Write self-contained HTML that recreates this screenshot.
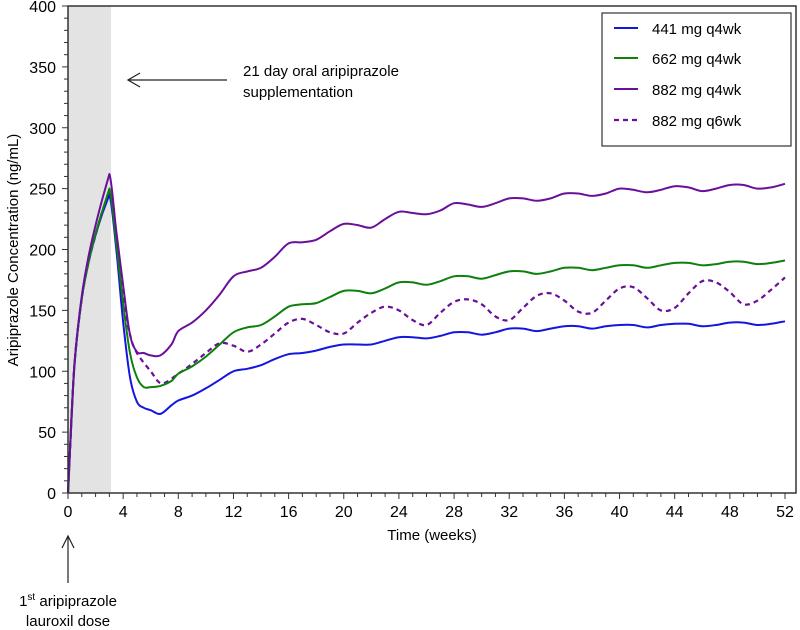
<!DOCTYPE html>
<html><head><meta charset="utf-8">
<style>
html,body{margin:0;padding:0;background:#fff;}
svg{display:block;font-family:"Liberation Sans",sans-serif;}
</style></head>
<body>
<svg id="chart" width="800" height="630" viewBox="0 0 800 630">
  <rect x="68" y="6" width="43" height="487" fill="#e3e3e3"/>
  <g id="curves"></g>
  <rect x="68" y="6" width="728" height="487" fill="none" stroke="#333" stroke-width="1.5"/>
  <g id="axes"></g>
  <text x="18" y="250" transform="rotate(-90 18 250)" text-anchor="middle" font-size="15">Aripiprazole Concentration (ng/mL)</text>
  <text x="432" y="540" text-anchor="middle" font-size="15">Time  (weeks)</text>
  <g>
    <line x1="227" y1="80" x2="128" y2="80" stroke="#222" stroke-width="1.2"/>
    <polyline points="140,73 128,80 140,87" fill="none" stroke="#222" stroke-width="1.2"/>
    <text x="243" y="76" font-size="15">21 day oral aripiprazole</text>
    <text x="243" y="97" font-size="15">supplementation</text>
  </g>
  <g>
    <line x1="68" y1="583" x2="68" y2="536" stroke="#222" stroke-width="1.2"/>
    <polyline points="62,548 68,536 74,548" fill="none" stroke="#222" stroke-width="1.2"/>
    <text x="68" y="606" text-anchor="middle" font-size="15">1<tspan font-size="10" dy="-6">st</tspan><tspan dy="6"> aripiprazole</tspan></text>
    <text x="68" y="626" text-anchor="middle" font-size="15">lauroxil dose</text>
  </g>
  <g>
    <rect x="602" y="13" width="189" height="133" fill="#fff" stroke="#333" stroke-width="1.2"/>
    <line x1="614" y1="28" x2="638" y2="28" stroke="#1515e0" stroke-width="2"/>
    <text x="652" y="34" font-size="15">441 mg q4wk</text>
    <line x1="614" y1="58" x2="638" y2="58" stroke="#0d800d" stroke-width="2"/>
    <text x="652" y="64" font-size="15">662 mg q4wk</text>
    <line x1="614" y1="89" x2="638" y2="89" stroke="#6a0f9a" stroke-width="2"/>
    <text x="652" y="95" font-size="15">882 mg q4wk</text>
    <line x1="614" y1="120" x2="638" y2="120" stroke="#6a0f9a" stroke-width="2.2" stroke-dasharray="5,4"/>
    <text x="652" y="126" font-size="15">882 mg q6wk</text>
  </g>
</svg>
<script>
const xTicks = [0,4,8,12,16,20,24,28,32,36,40,44,48,52];
const yTicks = [0,50,100,150,200,250,300,350,400];
const weeksA = [0,0.25,0.5,1,1.5,2,2.5,3,3.5,4,4.5,5,5.5,6,6.7,7.5,8,9,10,11,12,13,14,15,16,17,18,19,20,21,22,23,24,25,26,27,28,29,30,31,32,33,34,35,36,37,38,39,40,41,42,43,44,45,46,47,48,49,50,51,52];
const s441 = [0,60,110,160,190,212,230,245,200,140,95,75,70,68,65,72,76,80,86,93,100,102,105,110,114,115,117,120,122,122,122,125,128,128,127,129,132,132,130,132,135,135,133,135,137,137,135,137,138,138,136,138,139,139,137,138,140,140,138,139,141];
const s662 = [0,60,110,160,190,213,232,250,205,155,115,95,87,87,88,92,98,104,112,122,132,136,138,145,153,155,156,161,166,166,164,168,173,173,171,174,178,178,176,179,182,182,180,182,185,185,183,185,187,187,185,187,189,189,187,188,190,190,188,189,191];
const s882 = [0,60,110,162,195,220,242,262,215,170,130,116,115,113,113,122,133,140,150,163,178,182,185,194,205,206,208,215,221,220,218,225,231,230,229,232,238,237,235,238,242,242,240,242,246,246,244,246,250,249,247,249,252,251,248,250,253,253,250,251,254];
const weeksB = [0,0.25,0.5,1,1.5,2,2.5,3,3.5,4,4.5,5,6,6.8,8,9,10,11,12,13,14,15,16,17,18,19,20,21,22,23,24,25,26,27,28,29,30,31,32,33,34,35,36,37,38,39,40,41,42,43,44,45,46,47,48,49,50,51,52];
const s882q6 = [0,60,110,160,190,212,232,248,205,160,130,115,100,90,98,106,115,123,121,116,122,131,140,143,138,132,131,140,148,153,150,142,138,148,157,159,155,145,142,152,162,164,158,149,148,158,168,169,160,150,152,164,174,173,165,155,158,167,177];

const X = w => 68 + w * (785 - 68) / 52;
const Y = v => 493 - v * (493 - 6) / 400;
const NS = 'http://www.w3.org/2000/svg';
const axes = document.getElementById('axes');
const curves = document.getElementById('curves');

function mk(tag, attrs, parent) {
  const el = document.createElementNS(NS, tag);
  for (const k in attrs) el.setAttribute(k, attrs[k]);
  parent.appendChild(el);
  return el;
}
// minor x ticks
for (let w = 0; w <= 52; w++) {
  const t = mk('line', {x1: X(w), x2: X(w), y1: 493, y2: w % 4 === 0 ? 499 : 497, stroke: '#333', 'stroke-width': 1}, axes);
  
  
}
for (let v = 0; v <= 400; v += 10) {
  const t = mk('line', {x1: v % 50 === 0 ? 62 : 64, x2: 68, y1: Y(v), y2: Y(v), stroke: '#333', 'stroke-width': 1}, axes);
  
  
}
xTicks.forEach(w => {
  const t = mk('text', {x: X(w), y: 517, 'text-anchor': 'middle', 'font-size': 16}, axes);
  t.textContent = w;
  
  
});
yTicks.forEach(v => {
  const t = mk('text', {x: 56, y: Y(v) + 6, 'text-anchor': 'end', 'font-size': 16}, axes);
  t.textContent = v;
  
  
});

function smoothPath(ws, vs) {
  const p = ws.map((w, i) => [X(w), Y(vs[i])]);
  let d = 'M' + p[0][0].toFixed(1) + ',' + p[0][1].toFixed(1);
  for (let i = 0; i < p.length - 1; i++) {
    const p0 = p[i - 1] || p[i], p1 = p[i], p2 = p[i + 1], p3 = p[i + 2] || p2;
    const k = (i === 0 || i + 1 === 7) ? 0 : 1 / 6;
    const c1 = [p1[0] + (p2[0] - p0[0]) * k, p1[1] + (p2[1] - p0[1]) * k];
    const c2 = [p2[0] - (p3[0] - p1[0]) * k, p2[1] - (p3[1] - p1[1]) * k];
    d += ' C' + c1.map(n => n.toFixed(1)) + ' ' + c2.map(n => n.toFixed(1)) + ' ' + p2.map(n => n.toFixed(1));
  }
  return d;
}
const series = [
  ['series-882-q6wk', weeksB, s882q6, '#6a0f9a', '5,4', 2.2],
  ['series-441-q4wk', weeksA, s441, '#1515e0', '', 2],
  ['series-662-q4wk', weeksA, s662, '#0d800d', '', 2],
  ['series-882-q4wk', weeksA, s882, '#6a0f9a', '', 2]
];
series.forEach(s => {
  const el = mk('path', {d: smoothPath(s[1], s[2]), fill: 'none', stroke: s[3], 'stroke-width': s[5], 'stroke-dasharray': s[4] || 'none', 'stroke-linejoin': 'round'}, curves);
  
  
});
</script>
</body></html>
